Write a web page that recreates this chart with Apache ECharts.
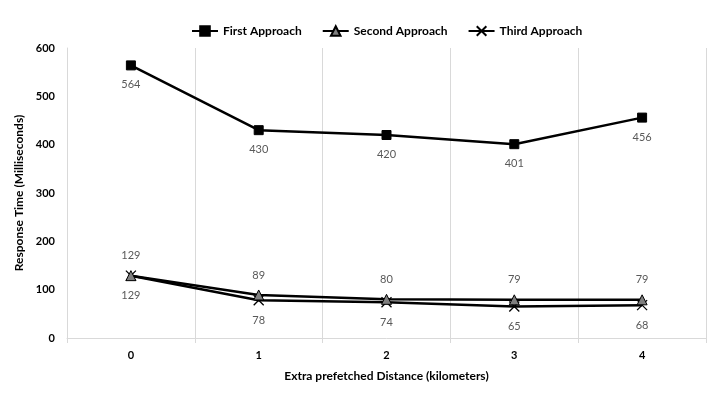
<!DOCTYPE html>
<html>
<head>
<meta charset="utf-8">
<script src="https://cdn.jsdelivr.net/npm/echarts@6/dist/echarts.min.js"></script>
<style>
  html, body { margin: 0; padding: 0; background: #fff; }
  #chart { width: 708px; height: 394px; }
</style>
</head>
<body>
<div id="chart"></div>
<script>
// Response time per extra prefetched distance, one array per approach
const categories = ['0', '1', '2', '3', '4'];
const firstApproach = [564, 430, 420, 401, 456];
const secondApproach = [129, 89, 80, 79, 79];
const thirdApproach = [129, 78, 74, 65, 68];
const seriesNames = ['First Approach', 'Second Approach', 'Third Approach'];
const yTicks = { min: 0, max: 600, interval: 100 };

const FONT = 'Lato, "Liberation Sans", sans-serif';
const crossPath = 'path://M0,0L10,10M10,0L0,10';

const labelStyle = {
  show: true,
  color: '#595959',
  fontSize: 11,
  fontFamily: FONT,
  distance: 9
};

const chart = echarts.init(document.getElementById('chart'), null, { renderer: 'canvas' });
chart.setOption({
  animation: false,
  backgroundColor: '#fff',
  grid: { left: 67, right: 2, top: 48, bottom: 56, containLabel: false },
  legend: {
    top: 20,
    left: 186,
    itemGap: 20,
    itemWidth: 26,
    itemHeight: 12,
    textStyle: { fontFamily: FONT, fontWeight: 'bold', fontSize: 12, color: '#000' },
    data: seriesNames
  },
  xAxis: {
    type: 'category',
    data: categories,
    boundaryGap: true,
    name: 'Extra prefetched Distance (kilometers)',
    nameLocation: 'middle',
    nameGap: 32,
    nameTextStyle: { fontFamily: FONT, fontWeight: 'bold', fontSize: 12, color: '#000' },
    axisLine: { lineStyle: { color: '#d9d9d9', width: 1 } },
    axisTick: { show: true, length: 5, lineStyle: { color: '#d9d9d9' } },
    axisLabel: { fontFamily: FONT, fontWeight: 'bold', fontSize: 11, color: '#000', margin: 12 },
    splitLine: { show: true, lineStyle: { color: '#d9d9d9', width: 1 } }
  },
  yAxis: {
    type: 'value',
    min: yTicks.min,
    max: yTicks.max,
    interval: yTicks.interval,
    name: 'Response Time (Milliseconds)',
    nameLocation: 'middle',
    nameGap: 42,
    nameTextStyle: { fontFamily: FONT, fontWeight: 'bold', fontSize: 12, color: '#000' },
    axisLine: { show: true, lineStyle: { color: '#d9d9d9', width: 1 } },
    axisTick: { show: false },
    axisLabel: { fontFamily: FONT, fontWeight: 'bold', fontSize: 11, color: '#000', margin: 12 },
    splitLine: { show: false }
  },
  series: [
    {
      name: seriesNames[0],
      type: 'line',
      data: firstApproach,
      symbol: 'rect',
      symbolSize: 9,
      lineStyle: { color: '#000', width: 2.5 },
      itemStyle: { color: '#000', borderColor: '#000', borderWidth: 1 },
      label: Object.assign({ position: 'bottom' }, labelStyle),
      z: 3
    },
    {
      name: seriesNames[2],
      type: 'line',
      data: thirdApproach,
      symbol: crossPath,
      symbolSize: 10,
      lineStyle: { color: '#000', width: 2.5 },
      itemStyle: { color: '#000', borderColor: '#000', borderWidth: 1.3 },
      label: Object.assign({ position: 'bottom' }, labelStyle),
      z: 3
    },
    {
      name: seriesNames[1],
      type: 'line',
      data: secondApproach,
      symbol: 'triangle',
      symbolSize: 10,
      lineStyle: { color: '#000', width: 2.5 },
      itemStyle: { color: '#7f7f7f', borderColor: '#000', borderWidth: 1 },
      label: Object.assign({ position: 'top' }, labelStyle),
      z: 4
    }
  ]
});
</script>
</body>
</html>
